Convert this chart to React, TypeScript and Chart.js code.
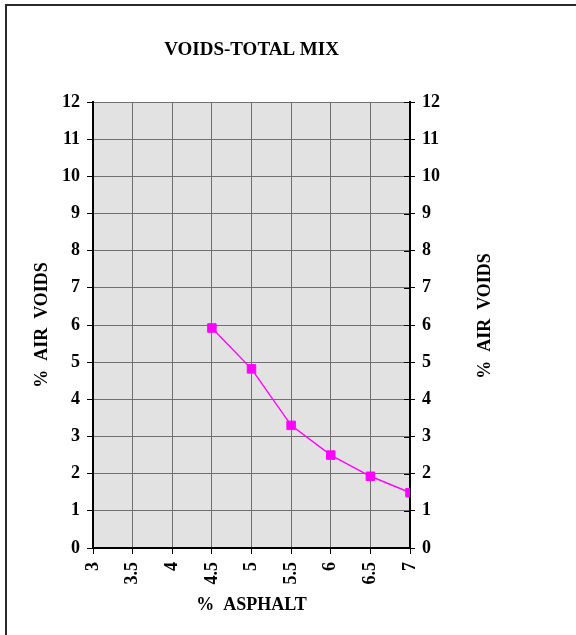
import React, { useEffect, useRef } from 'react';
import { Chart, registerables } from 'chart.js';

Chart.register(...registerables);

// ---- data ----
const asphaltPct = [4.5, 5, 5.5, 6, 6.5, 7];
const airVoids = [5.92, 4.82, 3.3, 2.5, 1.93, 1.49];

// ---- axes / labels ----
const xTickValues = [3, 3.5, 4, 4.5, 5, 5.5, 6, 6.5, 7];
const xTickLabels = ['3', '3.5', '4', '4.5', '5', '5.5', '6', '6.5', '7'];
const yTickMin = 0;
const yTickMax = 12;
const yTickStep = 1;
const chartTitle = 'VOIDS-TOTAL MIX';
const xTitle = '%  ASPHALT';
const yTitle = '%  AIR  VOIDS';

const FONT = "'Liberation Serif', 'Times New Roman', serif";

const decor = {
  id: 'decor',
  beforeDraw(chart: any) {
    const { ctx, chartArea: a } = chart;
    ctx.save();
    ctx.fillStyle = '#e2e2e2';
    ctx.fillRect(a.left, a.top, a.right - a.left, a.bottom - a.top);
    ctx.fillStyle = '#2a2a2a';
    ctx.fillRect(5, 4, chart.width - 5, 2);
    ctx.fillRect(5, 4, 2, chart.height - 4);
    ctx.restore();
  },
  afterDraw(chart: any) {
    const { ctx, chartArea: a } = chart;
    const y2 = chart.scales.y2;
    ctx.save();
    ctx.strokeStyle = '#000';
    ctx.lineWidth = 1;
    ctx.beginPath();
    y2.ticks.forEach((_t: any, i: number) => {
      const y = Math.round(y2.getPixelForTick(i)) + 0.5;
      ctx.moveTo(y2.left - 6, y);
      ctx.lineTo(y2.left, y);
    });
    ctx.stroke();
    ctx.translate(y2.left + 75, (a.top + a.bottom) / 2 - 9);
    ctx.rotate(-Math.PI / 2);
    ctx.fillStyle = '#000';
    ctx.font = `bold 18px ${FONT}`;
    ctx.textAlign = 'center';
    ctx.textBaseline = 'middle';
    ctx.fillText(yTitle, 0, 0);
    ctx.restore();
  },
};

export default function App() {
  const ref = useRef<HTMLCanvasElement | null>(null);

  useEffect(() => {
    if (!ref.current) return;
    const gridCommon = {
      color: '#6f6f6f',
      lineWidth: 1,
      borderDash: [2, 1],
      tickColor: '#000',
      tickLength: 6,
      tickBorderDash: [],
    };
    const tickFont = { family: FONT, size: 18, weight: 'bold' as const };
    const chart = new Chart(ref.current, {
      type: 'line',
      data: {
        datasets: [
          {
            data: asphaltPct.map((x, i) => ({ x, y: airVoids[i] })),
            borderColor: '#ff00ff',
            backgroundColor: '#ff00ff',
            borderWidth: 1.4,
            borderDash: [],
            pointStyle: 'rect',
            pointRadius: 6,
            pointBorderWidth: 1,
            pointBorderColor: '#ff00ff',
            pointBackgroundColor: '#ff00ff',
            fill: false,
            tension: 0,
          },
        ],
      },
      options: {
        responsive: false,
        animation: false,
        layout: { padding: 0 },
        plugins: {
          legend: { display: false },
          tooltip: { enabled: false },
          title: {
            display: true,
            text: chartTitle,
            fullSize: false,
            color: '#000',
            font: { family: FONT, size: 19, weight: 'bold' },
            padding: { top: 38.6, bottom: 40.6 },
          },
        },
        scales: {
          x: {
            type: 'linear',
            min: xTickValues[0],
            max: xTickValues[xTickValues.length - 1],
            afterFit: (s: any) => {
              s.height = 87;
            },
            afterBuildTicks: (s: any) => {
              s.ticks = xTickValues.map((v) => ({ value: v }));
            },
            ticks: {
              autoSkip: false,
              maxRotation: 90,
              minRotation: 90,
              padding: 8,
              color: '#000',
              font: tickFont,
              callback: (_v: any, i: number) => xTickLabels[i],
            },
            grid: { ...gridCommon },
            border: { display: true, color: '#000', width: 2 },
            title: {
              display: true,
              text: xTitle,
              color: '#000',
              font: { family: FONT, size: 18, weight: 'bold' },
              padding: { top: 0, bottom: 19.2 },
            },
          },
          y: {
            type: 'linear',
            position: 'left',
            min: yTickMin,
            max: yTickMax,
            afterFit: (s: any) => {
              s.width = 93;
            },
            ticks: {
              stepSize: yTickStep,
              padding: 7,
              color: '#000',
              font: tickFont,
            },
            grid: { ...gridCommon },
            border: { display: true, color: '#000', width: 2 },
            title: {
              display: true,
              text: yTitle,
              color: '#000',
              font: { family: FONT, size: 18, weight: 'bold' },
              padding: { top: 31.2, bottom: 0 },
            },
          },
          y2: {
            type: 'linear',
            position: 'right',
            min: yTickMin,
            max: yTickMax,
            afterFit: (s: any) => {
              s.width = 166;
            },
            ticks: {
              stepSize: yTickStep,
              padding: 7,
              color: '#000',
              font: tickFont,
            },
            grid: { ...gridCommon, drawOnChartArea: false, tickLength: 5 },
            border: { display: true, color: '#000', width: 2 },
          },
        },
      },
      plugins: [decor],
    } as any);
    return () => chart.destroy();
  }, []);

  return (
    <div style={{ position: 'absolute', left: 0, top: 0, width: 576, height: 635, background: '#fff' }}>
      <canvas ref={ref} width={576} height={635} style={{ display: 'block' }} />
    </div>
  );
}
